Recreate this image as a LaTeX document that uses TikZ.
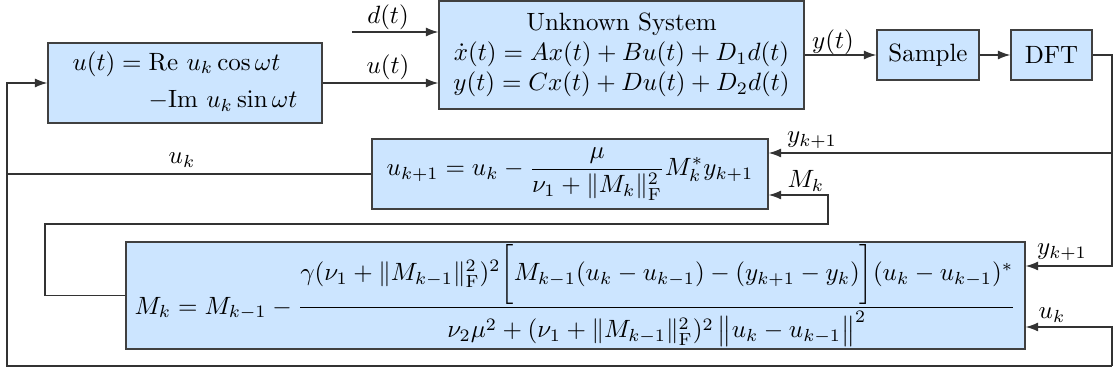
\documentclass[tikz,border=0pt]{standalone}
\usepackage{amsmath}
\usetikzlibrary{arrows.meta}
\definecolor{boxfill}{RGB}{204,229,255}
\begin{document}
\begin{tikzpicture}[x=0.4pt,y=-0.4pt,
  blk/.style={draw=black!75, fill=boxfill, inner sep=1pt, line width=0.5pt},
  line/.style={draw=black!80, line width=0.5pt},
  arr/.style={line, -{Latex[length=5pt,width=3.6pt]}},
  lbl/.style={inner sep=0pt}]
\useasboundingbox (0,0) rectangle (1115,372);
% blocks
\node[blk, minimum width=109.6pt, minimum height=32pt] (gen) at (185,83)
  {$\begin{aligned} u(t) &= \mathrm{Re}\ u_k\cos\omega t\\ &\hphantom{{}={}}{-\mathrm{Im}}\ u_k\sin\omega t\end{aligned}$};
\node[blk, minimum width=146pt, minimum height=43.2pt, align=center] (sys) at (621.5,55)
  {Unknown System\\ $\dot x(t)=Ax(t)+Bu(t)+D_1d(t)$\\ $y(t)=Cx(t)+Du(t)+D_2d(t)$};
\node[blk, minimum width=40.8pt, minimum height=20pt] (sample) at (928,55) {Sample};
\node[blk, minimum width=32.4pt, minimum height=20pt] (dft) at (1051.5,55) {DFT};
\node[blk, minimum width=158.4pt, minimum height=28pt] (upd) at (570,174)
  {$\displaystyle u_{k+1} = u_k - \frac{\mu}{\nu_1+\|M_k\|_{\mathrm{F}}^2} M_k^* y_{k+1}$};
\node[blk, minimum width=359.6pt, minimum height=40.4pt] (Mk) at (575.5,295.5)
  {$\displaystyle M_k = M_{k-1} - \frac{\gamma(\nu_1+\|M_{k-1}\|_{\mathrm{F}}^2)^2\biggl[M_{k-1}(u_k-u_{k-1})-(y_{k+1}-y_k)\biggr](u_k-u_{k-1})^*}{\nu_2\mu^2+(\nu_1+\|M_{k-1}\|_{\mathrm{F}}^2)^2\,\bigl\|u_k-u_{k-1}\bigr\|^2}$};
% coordinates
\coordinate (dIn) at (352,32);
\coordinate (yA) at (1112,153);
\coordinate (yB) at (1112,266);
\coordinate (uIn) at (1112,327);
\coordinate (B1) at (7,366);
\coordinate (B2) at (1112,366);
\coordinate (L1) at (45,224);
\coordinate (L2) at (828,195);
% connectors
\draw[arr] (dIn) -- (dIn -| sys.west);
\draw[arr] (gen.east) -- (gen.east -| sys.west);
\draw[arr] (sys) -- (sample);
\draw[arr] (sample) -- (dft);
\draw[arr] (dft.east) -| (yB) -- (yB -| Mk.east);
\draw[arr] (yA) -- (yA -| upd.east);
\draw[arr] (Mk.west) -| (L1) -| (L2) -- (L2 -| upd.east);
\draw[line] (upd.west) -- (upd.west -| B1);
\draw[arr] (B2) -- (uIn) -- (uIn -| Mk.east);
\draw[arr] (B2) -- (B1) |- (gen.west);
% labels
\node[lbl] (ld) at (388,17) {$d(t)$};
\node[lbl] (lu) at (388,67) {$u(t)$};
\node[lbl] (ly) at (833,42) {$y(t)$};
\node[lbl] (lya) at (812,140) {$y_{k+1}$};
\node[lbl] (lm) at (806,181) {$M_k$};
\node[lbl] (lyb) at (1062,252) {$y_{k+1}$};
\node[lbl] (lub) at (1052,315) {$u_k$};
\node[lbl] (luk) at (182,160) {$u_k$};
\end{tikzpicture}
\end{document}
